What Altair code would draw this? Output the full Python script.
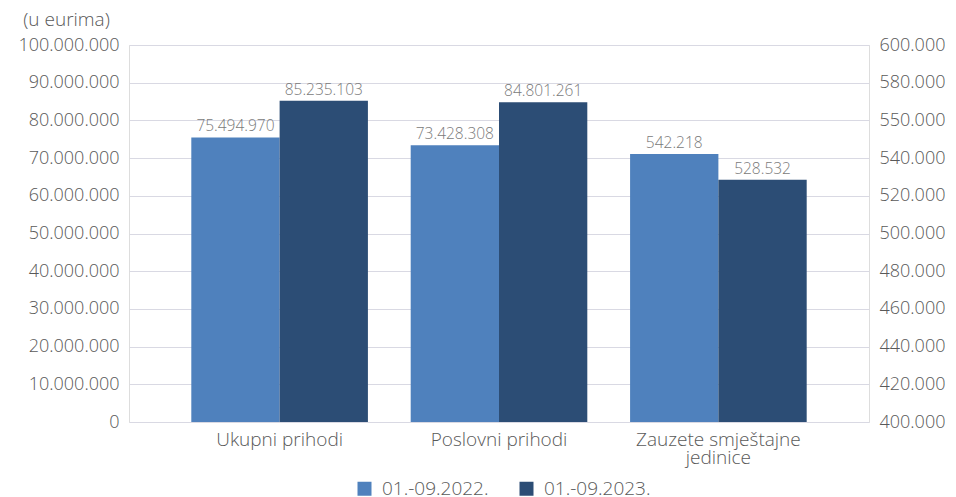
import altair as alt
import pandas as pd

categories = ["Ukupni prihodi", "Poslovni prihodi", "Zauzete smještajne jedinice"]
series = ["01.-09.2022.", "01.-09.2023."]
values_2022 = [75494970, 73428308, 542218]
values_2023 = [85235103, 84801261, 528532]
axis_side = ["left", "left", "right"]
left_ticks = [0, 10000000, 20000000, 30000000, 40000000, 50000000,
              60000000, 70000000, 80000000, 90000000, 100000000]
right_ticks = [400000, 420000, 440000, 460000, 480000, 500000,
               520000, 540000, 560000, 580000, 600000]
right_tick_labels = ["400.000", "420.000", "440.000", "460.000", "480.000", "500.000",
                     "520.000", "540.000", "550.000", "580.000", "600.000"]
colors = ["#4f81bd", "#2c4d75"]

FONT = "Open Sans"
W = 300
AXIS_COLOR = "#595959"
LABEL_COLOR = "#7a7a7a"
GRID_COLOR = "#d9d9e3"

rows = []
for i, c in enumerate(categories):
    for s, vals in zip(series, [values_2022, values_2023]):
        rows.append({"category": c, "series": s, "value": vals[i],
                     "side": axis_side[i],
                     "label": f"{vals[i]:,}".replace(",", ".")})
df = pd.DataFrame(rows)

x_enc = alt.X("category:N", sort=categories,
              scale=alt.Scale(domain=categories, paddingInner=0.195, paddingOuter=0.284),
              axis=alt.Axis(title=None, labelAngle=0, domain=False, ticks=False,
                            labelPadding=8, labelFontSize=19, labelColor=AXIS_COLOR,
                            labelFont=FONT, labelFontWeight=W, labelLineHeight=18,
                            labelExpr="datum.label == 'Zauzete smještajne jedinice' ? ['Zauzete smještajne', 'jedinice'] : datum.label"))
xo_enc = alt.XOffset("series:N", sort=series,
                     scale=alt.Scale(domain=series, paddingInner=0, paddingOuter=0))
color_enc = alt.Color("series:N", sort=series,
                      scale=alt.Scale(domain=series, range=colors),
                      legend=alt.Legend(title=None, orient="none", direction="horizontal",
                                        legendX=226, legendY=434, padding=0,
                                        symbolType="square", symbolSize=196,
                                        symbolStrokeWidth=0, labelFontSize=19,
                                        labelOffset=8, labelColor=AXIS_COLOR,
                                        labelFont=FONT, labelFontWeight=W,
                                        columnPadding=28))

base = alt.Chart(df).encode(x=x_enc, xOffset=xo_enc)

left_y = alt.Y("value:Q",
               scale=alt.Scale(domain=[0, 100000000], nice=False, zero=True),
               axis=alt.Axis(orient="left", values=left_ticks, grid=True,
                             gridColor=GRID_COLOR, gridWidth=1, domain=False, ticks=False,
                             labelPadding=10, labelFontSize=18, labelColor=AXIS_COLOR,
                             labelFont=FONT, labelFontWeight=W,
                             labelExpr="replace(format(datum.value, ','), regexp(',', 'g'), '.')",
                             title="(u eurima)", titleAngle=0, titleAlign="center",
                             titleBaseline="middle", titleX=-63, titleY=-26,
                             titleFontSize=19, titleFontWeight=W,
                             titleColor=AXIS_COLOR, titleFont=FONT))

right_label_expr = "[" + ", ".join(f"'{t}'" for t in right_tick_labels) + \
    f"][round((datum.value - {right_ticks[0]}) / {right_ticks[1] - right_ticks[0]})]"
right_y = alt.Y("value:Q",
                scale=alt.Scale(domain=[400000, 600000], nice=False, zero=False),
                axis=alt.Axis(orient="right", values=right_ticks, grid=False,
                              domain=False, ticks=False, labelPadding=10,
                              labelFontSize=18, labelColor=AXIS_COLOR, labelFont=FONT,
                              labelFontWeight=W, labelExpr=right_label_expr, title=None))

text_kw = dict(baseline="bottom", dy=-3, fontSize=15.5, font=FONT, fontWeight=W,
               color=LABEL_COLOR)

left_data = base.transform_filter(alt.datum.side == "left")
left_bars = left_data.mark_bar().encode(y=left_y, color=color_enc)
left_text = left_data.mark_text(**text_kw).encode(y=left_y, text="label:N")
left_layer = alt.layer(left_bars, left_text)

right_data = base.transform_filter(alt.datum.side == "right")
right_bars = right_data.mark_bar().encode(y=right_y, y2=alt.datum(400000), color=color_enc)
right_text = right_data.mark_text(**text_kw).encode(y=right_y, text="label:N")
right_layer = alt.layer(right_bars, right_text)

chart = alt.layer(left_layer, right_layer).resolve_scale(y="independent").properties(
    width=740, height=377,
    padding={"left": 9, "top": 2, "right": 0, "bottom": 0}
).configure_view(stroke=None).configure(font=FONT)

chart.save("out.html", embed_options={"renderer": "svg", "actions": False})
